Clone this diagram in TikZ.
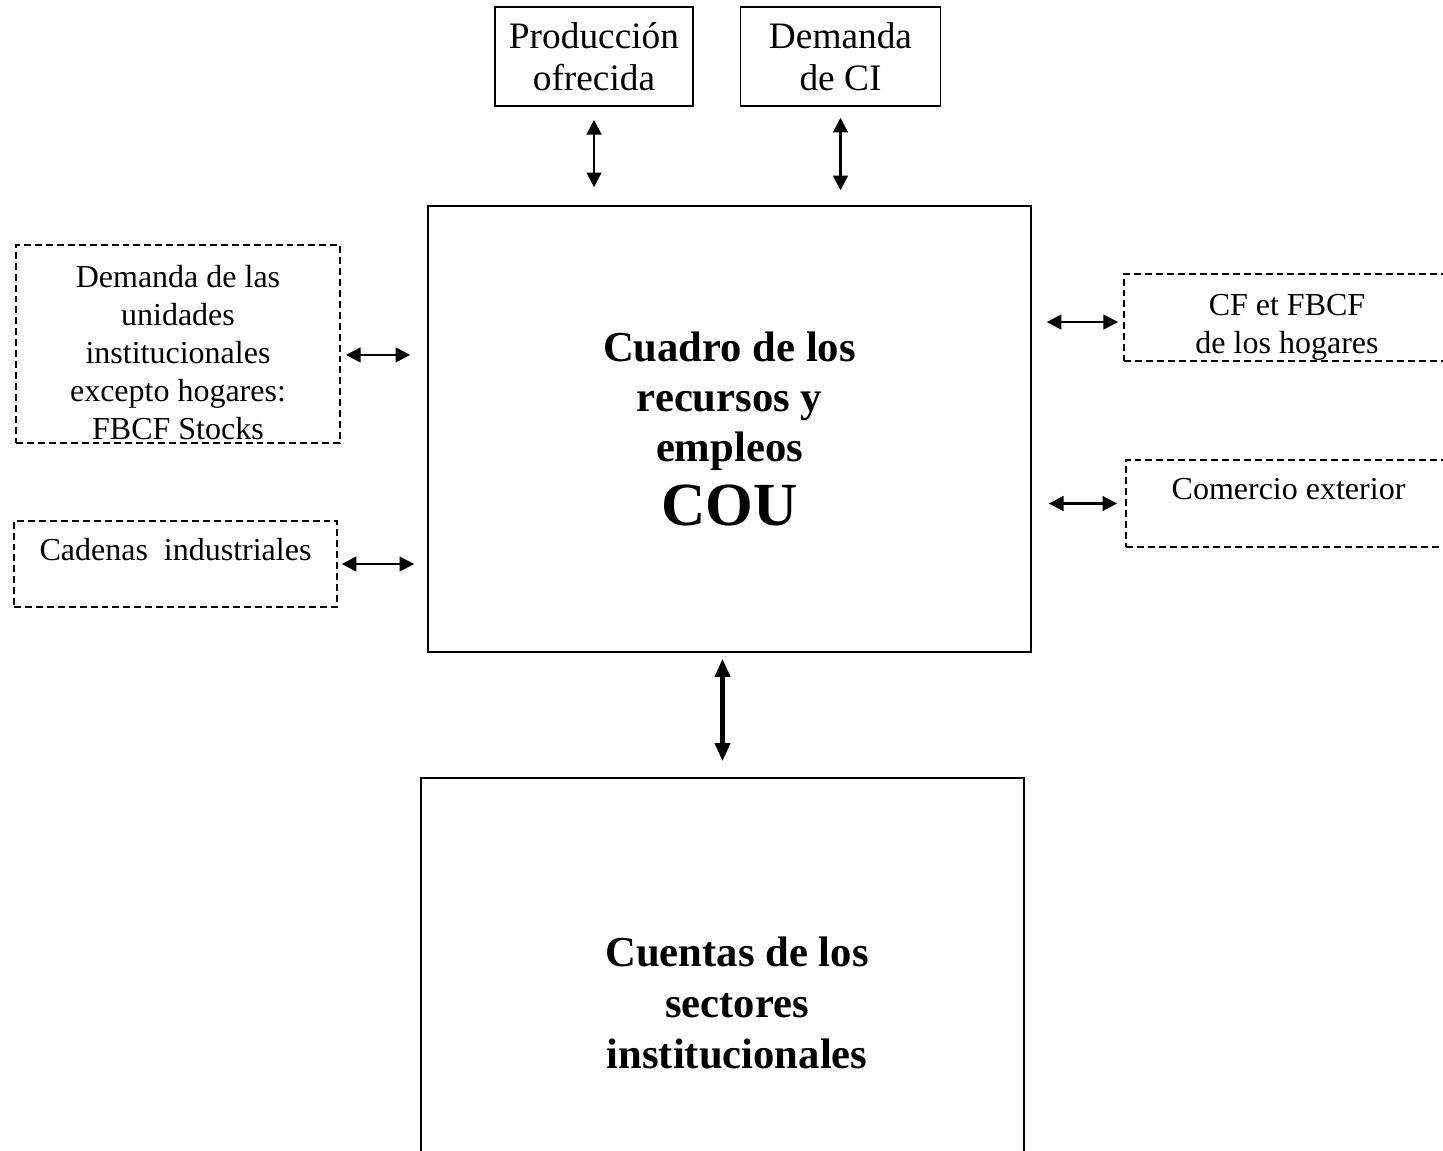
\documentclass[tikz,border=0pt]{standalone}
\usepackage{fontspec}
\setmainfont{Liberation Serif}
\usetikzlibrary{arrows.meta}

\begin{document}
\begin{tikzpicture}[x=0.375pt,y=-0.375pt,
  caja/.style={draw,line width=0.6pt,inner sep=0pt,align=center},
  punteada/.style={draw,line width=0.6pt,dash pattern=on 2.6pt off 1.5pt,inner sep=0pt,align=center,font=\fontsize{12}{14.25}\selectfont},
  flecha/.style={{Triangle[width=5.5pt,length=5.5pt]}-{Triangle[width=5.5pt,length=5.5pt]},line width=0.9pt},
  flechagrande/.style={{Triangle[width=5.6pt,length=6.8pt]}-{Triangle[width=5.6pt,length=6.8pt]},line width=1.6pt}]
\useasboundingbox (0,0) rectangle (1443,1150);
\clip (0,0) rectangle (1443,1150);
\node [caja,minimum width=74.25pt,minimum height=37.1pt,font=\fontsize{14}{15.75}\selectfont] (po) at (594,56.5) {Producción\\ofrecida};
\node [caja,minimum width=75pt,minimum height=37.1pt,font=\fontsize{14}{15.75}\selectfont] (dci) at (840.5,56.5) {Demanda\\de CI};
\node [caja,minimum width=226.1pt,minimum height=167.25pt,font=\fontsize{16}{18.75}\selectfont\bfseries] (cou) at (729.5,429)
  {Cuadro de los\\recursos y\\empleos\\[5.5pt]{\fontsize{23}{26}\selectfont COU}};
\node [punteada,minimum width=121.5pt,text height=72.8pt,text depth=1.45pt] (du) at (178,344)
  {Demanda de las\\unidades\\institucionales\\excepto hogares:\\FBCF Stocks};
\node [punteada,minimum width=121.1pt,text height=14.9pt,text depth=17.35pt] (ci) at (175.5,564) {Cadenas~ industriales};
\node [punteada,minimum width=122.25pt,text height=29.85pt,text depth=2.75pt] (hog) at (1287,317.5) {CF et FBCF\\de los hogares};
\node [punteada,minimum width=121.9pt,text height=14.85pt,text depth=17.75pt] (ce) at (1288.5,503.5) {Comercio exterior};
\node [caja,minimum width=226.1pt,minimum height=168.75pt,font=\fontsize{16}{19.25}\selectfont\bfseries] (cs) at (722.5,1003)
  {\hspace*{10.9pt}Cuentas de los\\\hspace*{10.9pt}sectores\\\hspace*{10.9pt}institucionales};
\coordinate (a1) at ([yshift=-4.1pt]du.east);
\coordinate (a2) at ([yshift=-1.7pt]hog.west);
\draw [flecha,shorten <=4.9pt,shorten >=6.75pt] (po.south) -- (po.south |- cou.north);
\draw [flecha,shorten <=4.1pt,shorten >=5.6pt] (dci.south) -- (dci.south |- cou.north);
\draw [flecha,shorten <=1.9pt,shorten >=6.4pt] (a1) -- (a1 -| cou.west);
\draw [flecha,shorten <=1.5pt,shorten >=4.9pt] (ci.east) -- (ci.east -| cou.west);
\draw [flecha,shorten <=5.6pt,shorten >=1.9pt] (a2 -| cou.east) -- (a2);
\draw [flecha,shorten <=6.4pt,shorten >=3pt] (ce.west -| cou.east) -- (ce.west);
\draw [flechagrande,shorten <=2.25pt,shorten >=6pt] (cs.north |- cou.south) -- (cs.north);
\end{tikzpicture}
\end{document}
